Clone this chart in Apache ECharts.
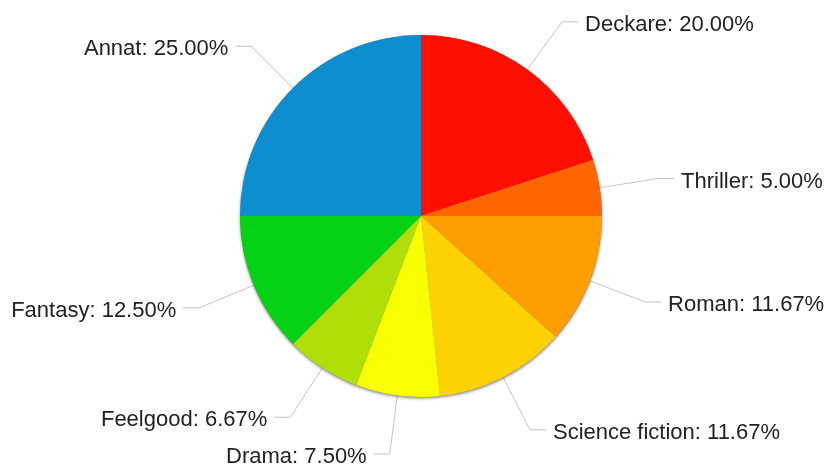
<!DOCTYPE html>
<html>
<head>
<meta charset="utf-8">
<style>
  html, body { margin: 0; padding: 0; background: #fff; }
  #chart { width: 827px; height: 466px; }
</style>
<script src="https://cdn.jsdelivr.net/npm/echarts@6/dist/echarts.min.js"></script>
</head>
<body>
<div id="chart"></div>
<script>
// Genres and number of books in each
const genres = ['Deckare', 'Thriller', 'Roman', 'Science fiction', 'Drama', 'Feelgood', 'Fantasy', 'Annat'];
const counts = [24, 6, 14, 14, 9, 8, 15, 30];
const colors = ['#FF0F00', '#FF6600', '#FF9E01', '#FCD202', '#F8FF01', '#B0DE09', '#04D215', '#0D8ECF'];

const center = [421, 216];
const radius = 181;

const chart = echarts.init(document.getElementById('chart'), null, { renderer: 'canvas' });

chart.setOption({
  animation: false,
  backgroundColor: '#ffffff',
  series: [
    {
      // soft drop shadow under the whole disc
      type: 'pie',
      silent: true,
      center: center,
      radius: radius,
      label: { show: false },
      labelLine: { show: false },
      itemStyle: {
        color: '#888',
        shadowBlur: 3,
        shadowOffsetX: 0,
        shadowOffsetY: 1.5,
        shadowColor: 'rgba(0,0,0,0.45)'
      },
      data: [{ value: 1, name: '' }]
    },
    {
      type: 'pie',
      center: center,
      radius: radius,
      startAngle: 90,
      clockwise: true,
      avoidLabelOverlap: false,
      data: genres.map((g, i) => ({
        name: g,
        value: counts[i],
        itemStyle: { color: colors[i] }
      })),
      itemStyle: { borderWidth: 0 },
      label: {
        show: true,
        distanceToLabelLine: 7,
        formatter: p => '{t|' + p.name + ': ' + p.percent.toFixed(2) + '%}',
        rich: {
          t: {
            color: '#222',
            fontFamily: '"Liberation Sans", Arial, sans-serif',
            fontSize: 22,
            lineHeight: 26,
            padding: [6, 0, 0, 0]
          }
        }
      },
      labelLine: {
        show: true,
        length: 59,
        length2: 16,
        smooth: false,
        lineStyle: { color: '#c4c4c4', width: 1 }
      },
      percentPrecision: 4
    }
  ]
});
</script>
</body>
</html>
